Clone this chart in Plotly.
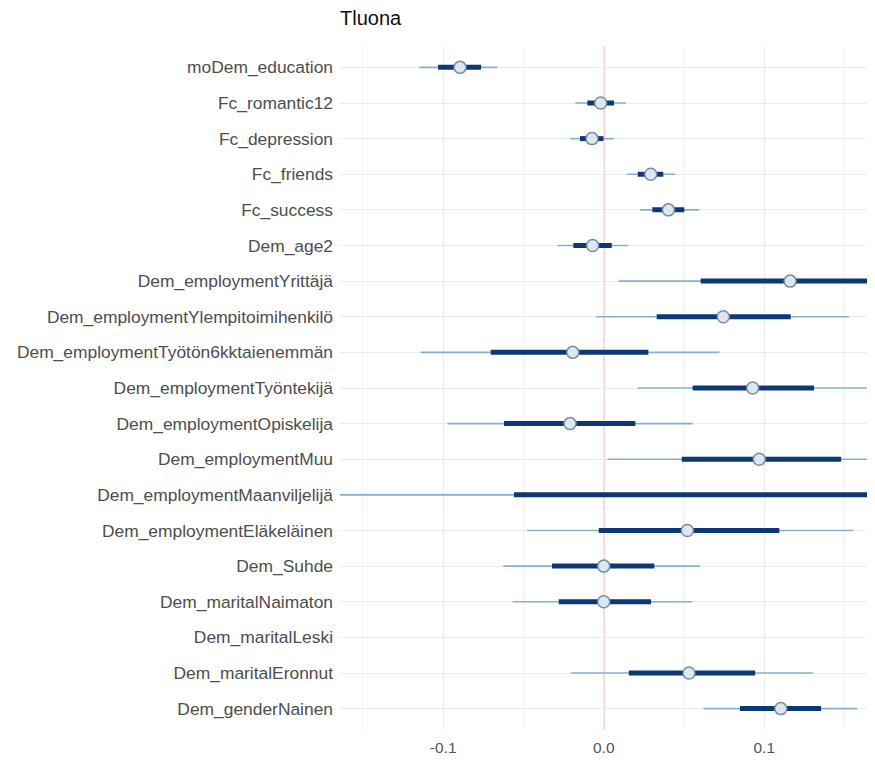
import plotly.graph_objects as go

terms = [
    "moDem_education", "Fc_romantic12", "Fc_depression", "Fc_friends", "Fc_success",
    "Dem_age2", "Dem_employmentYrittäjä", "Dem_employmentYlempitoimihenkilö",
    "Dem_employmentTyötön6kktaienemmän", "Dem_employmentTyöntekijä",
    "Dem_employmentOpiskelija", "Dem_employmentMuu", "Dem_employmentMaanviljelijä",
    "Dem_employmentEläkeläinen", "Dem_Suhde", "Dem_maritalNaimaton", "Dem_maritalLeski",
    "Dem_maritalEronnut", "Dem_genderNainen",
]
estimate = [-0.0895, -0.0019, -0.0073, 0.0293, 0.0403, -0.0069, 0.1161, 0.0745, -0.0193,
            0.0928, -0.0210, 0.0969, 0.2000, 0.0521, 0.0000, 0.0000, None, 0.0531, 0.1103]
inner_lo = [-0.1032, -0.0102, -0.0148, 0.0212, 0.0303, -0.0189, 0.0604, 0.0330, -0.0704,
            0.0554, -0.0621, 0.0486, -0.0559, -0.0031, -0.0322, -0.0280, None, 0.0156, 0.0849]
inner_hi = [-0.0764, 0.0064, -0.0002, 0.0371, 0.0502, 0.0050, 0.1720, 0.1165, 0.0278,
            0.1310, 0.0197, 0.1479, 0.4560, 0.1094, 0.0315, 0.0295, None, 0.0943, 0.1354]
outer_lo = [-0.1149, -0.0177, -0.0210, 0.0147, 0.0226, -0.0289, 0.0093, -0.0048, -0.1140,
            0.0212, -0.0974, 0.0023, -0.2900, -0.0476, -0.0626, -0.0567, None, -0.0202, 0.0621]
outer_hi = [-0.0663, 0.0139, 0.0064, 0.0444, 0.0594, 0.0153, 0.2230, 0.1528, 0.0720,
            0.1700, 0.0554, 0.1900, 0.6900, 0.1555, 0.0600, 0.0552, None, 0.1302, 0.1580]

x_tickvals = [-0.1, 0.0, 0.1]
x_ticktext = ["-0.1", "0.0", "0.1"]

def segs(lo, hi):
    xs, ys = [], []
    for t, a, b in zip(terms, lo, hi):
        if a is None or b is None:
            continue
        xs += [a, b, None]
        ys += [t, t, None]
    return xs, ys

fig = go.Figure()
ox, oy = segs(outer_lo, outer_hi)
fig.add_trace(go.Scatter(x=ox, y=oy, mode="lines",
                         line=dict(color="#86afd0", width=1.6), showlegend=False))
ix, iy = segs(inner_lo, inner_hi)
fig.add_trace(go.Scatter(x=ix, y=iy, mode="lines",
                         line=dict(color="#0c3876", width=5), showlegend=False))
px = [e for e in estimate if e is not None]
py = [t for t, e in zip(terms, estimate) if e is not None]
fig.add_trace(go.Scatter(x=px, y=py, mode="markers",
                         marker=dict(size=12, color="#dbe7f1",
                                     line=dict(color="#7b8ca4", width=1.5)),
                         showlegend=False))

fig.add_vline(x=0, line=dict(color="#f4a3a3", width=1.5), layer="below")

fig.update_layout(
    width=867, height=752,
    margin=dict(l=332, r=0, t=38, b=30),
    paper_bgcolor="white", plot_bgcolor="white",
    title=dict(text="Tluona", x=0, xref="paper", xanchor="left",
               y=0.987, yanchor="middle",
               font=dict(family="Liberation Sans, Arial", size=20, color="#111111")),
    font=dict(family="Liberation Sans, Arial", color="#4d4d4d"),
)
fig.update_xaxes(range=[-0.1643, 0.169], tickvals=x_tickvals, ticktext=x_ticktext,
                 showgrid=True, gridcolor="#ebebeb", gridwidth=1, zeroline=False,
                 showline=False, ticks="", ticklabelstandoff=6,
                 tickfont=dict(size=15.5, color="#555555"),
                 minor=dict(dtick=0.05, tick0=0, showgrid=True, gridcolor="#f2f2f2", gridwidth=1))
fig.update_yaxes(type="category", categoryorder="array", categoryarray=terms,
                 range=[len(terms) - 0.4, -0.6],
                 showgrid=True, gridcolor="#ebebeb", gridwidth=1, zeroline=False,
                 showline=False, ticks="", ticklabelstandoff=6,
                 tickfont=dict(size=17.4, color="#4d4d4d"))

fig.write_html("out.html")
